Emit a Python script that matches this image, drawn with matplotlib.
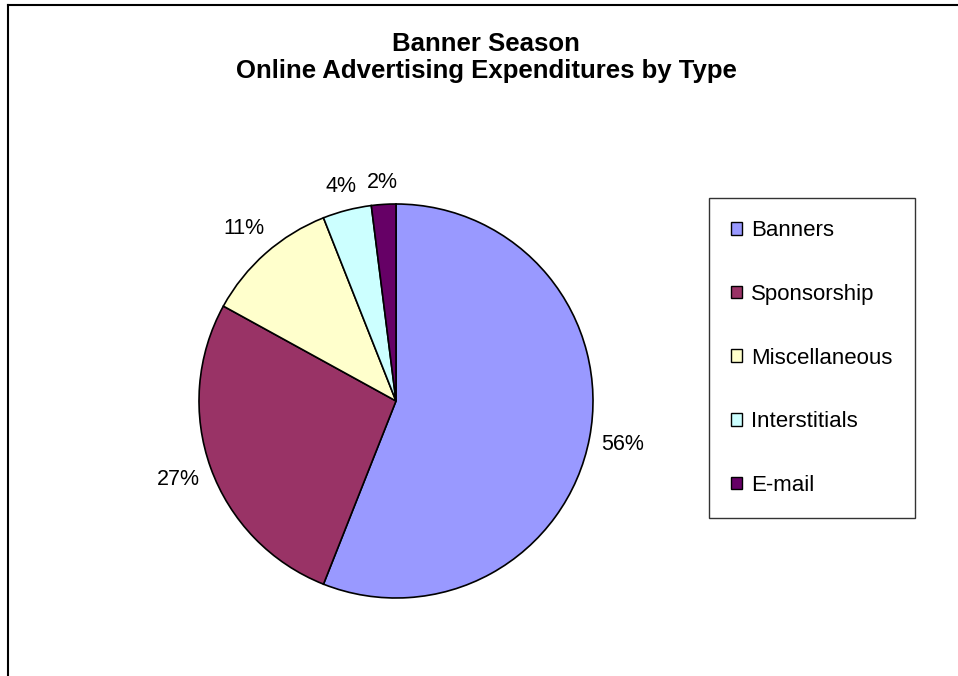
import matplotlib
matplotlib.use('Agg')
import matplotlib.pyplot as plt
from matplotlib.lines import Line2D
import numpy as np

plt.rcParams['font.family'] = ['Liberation Sans', 'DejaVu Sans']

# ad spend shares by type
types = ['Banners', 'Sponsorship', 'Miscellaneous', 'Interstitials', 'E-mail']
shares = [56, 27, 11, 4, 2]
colors = ['#9999FF', '#993366', '#FFFFCC', '#CCFFFF', '#660066']

W, H = 958, 676
fig = plt.figure(figsize=(W / 100, H / 100), dpi=100)

# pie placement in pixels
cx, cy, r = 396, 401, 197
half = 1.1 * r
ax = fig.add_axes([(cx - half) / W, 1 - (cy + half) / H, 2 * half / W, 2 * half / H])
wedges, _ = ax.pie(shares, colors=colors, startangle=90, counterclock=False,
                   wedgeprops=dict(edgecolor='black', linewidth=1.2))
ax.set_xlim(-1.1, 1.1)
ax.set_ylim(-1.1, 1.1)
ax.set_aspect('equal')
ax.axis('off')

# percent labels outside each slice
labels = []
for w, v in zip(wedges, shares):
    mid = np.deg2rad((w.theta1 + w.theta2) / 2)
    t = ax.text(1.2 * np.cos(mid), 1.2 * np.sin(mid), f'{v}%', ha='center',
                va='center', fontsize=15.5, color='black')
    labels.append((t, mid))

fig.canvas.draw()
inv = ax.transData.inverted()
gap = 0.055
for t, mid in labels:
    bb = t.get_window_extent()
    p0 = inv.transform((bb.x0, bb.y0))
    p1 = inv.transform((bb.x1, bb.y1))
    hw = (p1[0] - p0[0]) / 2
    hh = (p1[1] - p0[1]) / 2
    dx, dy = np.cos(mid), np.sin(mid)
    d = 1 + gap + hw * abs(dx) + hh * abs(dy)
    t.set_position((d * dx, d * dy))

fig.text(486 / W, 1 - 57.5 / H, 'Banner Season\nOnline Advertising Expenditures by Type',
         ha='center', va='center', fontsize=18.5, fontweight='bold', linespacing=1.2)

leg = fig.legend(wedges, types, loc='upper left',
                 bbox_to_anchor=(709 / W, 1 - 198 / H), borderaxespad=0,
                 frameon=True, fancybox=False, edgecolor='black', fontsize=16,
                 handlelength=0.5, handleheight=0.5, handletextpad=0.4,
                 labelspacing=1.92, borderpad=1.0)
leg.get_frame().set_linewidth(1.0)
for h in leg.legend_handles:
    h.set_linewidth(1.0)

# chart area border (top and left edges)
fig.add_artist(Line2D([8 / W, 1], [1 - 5 / H, 1 - 5 / H], transform=fig.transFigure,
                      color='black', lw=1.5))
fig.add_artist(Line2D([8 / W, 8 / W], [0, 1 - 5 / H], transform=fig.transFigure,
                      color='black', lw=1.5))

fig.savefig('out.png', dpi=100)
